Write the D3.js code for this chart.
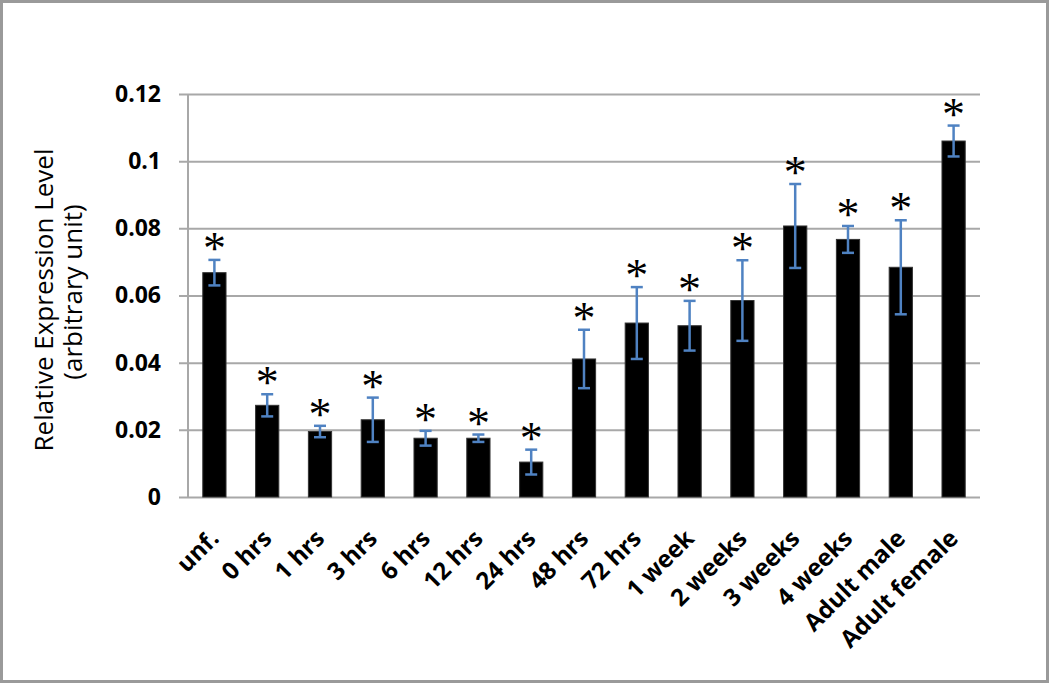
<!DOCTYPE html>
<html>
<head>
<meta charset="utf-8">
<script src="https://cdn.jsdelivr.net/npm/d3@7"></script>
<style>
  body { margin: 0; background: #fff; }
  svg { display: block; }
</style>
</head>
<body>
<div id="chart"></div>
<script>
const categories = ["unf.", "0 hrs", "1 hrs", "3 hrs", "6 hrs", "12 hrs", "24 hrs", "48 hrs",
  "72 hrs", "1 week", "2 weeks", "3 weeks", "4 weeks", "Adult male", "Adult female"];
const values = [0.0668, 0.0273, 0.0195, 0.0230, 0.0175, 0.0175, 0.0104, 0.0411,
  0.0518, 0.0510, 0.0585, 0.0807, 0.0767, 0.0684, 0.1060];
const errors = [0.0038, 0.0033, 0.0017, 0.0066, 0.0022, 0.0011, 0.0037, 0.0087,
  0.0107, 0.0074, 0.0120, 0.0125, 0.0040, 0.0140, 0.0046];
const yTicks = [0, 0.02, 0.04, 0.06, 0.08, 0.1, 0.12];

const data = categories.map((c, i) => ({ cat: c, value: values[i], err: errors[i] }));

const width = 1050, height = 684;
const margin = { top: 94, right: 70, bottom: 187, left: 188 };

const svg = d3.select("#chart").append("svg")
    .attr("width", width)
    .attr("height", height);

// outer frame
svg.append("rect")
    .attr("x", 1.5).attr("y", 1.5)
    .attr("width", width - 4).attr("height", height - 4)
    .attr("fill", "#fff")
    .attr("stroke", "#9a9a9a")
    .attr("stroke-width", 3);

const x = d3.scaleBand()
    .domain(categories)
    .range([margin.left, width - margin.right])
    .paddingInner(0.56)
    .paddingOuter(0.28);

const y = d3.scaleLinear()
    .domain([0, 0.12])
    .range([height - margin.bottom, margin.top]);

const plotW = width - margin.right - margin.left;

// y axis with gridlines
svg.append("g")
    .attr("transform", `translate(${width - margin.right},0)`)
    .call(d3.axisLeft(y)
      .tickValues(yTicks)
      .tickSize(plotW + 9)
      .tickFormat(d => d3.format("")(d)))
    .call(g => g.select(".domain").remove())
    .call(g => g.selectAll(".tick line")
      .attr("stroke", "#a8a8a8")
      .attr("stroke-width", 2))
    .call(g => g.selectAll(".tick text")
      .attr("x", -plotW - 27)
      .attr("fill", "#000")
      .attr("font-family", "'Open Sans', sans-serif")
      .attr("font-weight", "bold")
      .attr("font-size", 23));

// vertical axis line
svg.append("line")
    .attr("x1", margin.left).attr("x2", margin.left)
    .attr("y1", y(0.12)).attr("y2", y(0))
    .attr("stroke", "#a8a8a8")
    .attr("stroke-width", 2);

// bars
svg.append("g")
  .selectAll("rect")
  .data(data)
  .join("rect")
    .attr("x", d => x(d.cat))
    .attr("y", d => y(d.value))
    .attr("width", x.bandwidth())
    .attr("height", d => y(0) - y(d.value))
    .attr("fill", "#000")
    .attr("stroke", "#333")
    .attr("stroke-width", 1);

// error bars
const errColor = "#4f82c2";
const eb = svg.append("g")
  .selectAll("g")
  .data(data)
  .join("g")
    .attr("transform", d => `translate(${x(d.cat) + x.bandwidth() / 2},0)`);

eb.append("line")
    .attr("y1", d => y(d.value + d.err))
    .attr("y2", d => y(d.value - d.err))
    .attr("stroke", errColor)
    .attr("stroke-width", 2.5);

eb.append("line")
    .attr("x1", -6).attr("x2", 6)
    .attr("y1", d => y(d.value + d.err))
    .attr("y2", d => y(d.value + d.err))
    .attr("stroke", errColor)
    .attr("stroke-width", 2.5);

eb.append("line")
    .attr("x1", -6).attr("x2", 6)
    .attr("y1", d => y(d.value - d.err))
    .attr("y2", d => y(d.value - d.err))
    .attr("stroke", errColor)
    .attr("stroke-width", 2.5);

// significance asterisks
eb.append("text")
    .attr("y", d => y(d.value + d.err) + 4)
    .attr("text-anchor", "middle")
    .attr("font-family", "'Liberation Serif', serif")
    .attr("font-size", 46)
    .attr("fill", "#000")
    .text("*");

// x labels
svg.append("g")
  .selectAll("text")
  .data(categories)
  .join("text")
    .attr("transform", d => `translate(${x(d) + x.bandwidth() / 2 + 6},${y(0) + 43}) rotate(-45)`)
    .attr("text-anchor", "end")
    .attr("font-family", "'Open Sans', sans-serif")
    .attr("font-weight", "bold")
    .attr("font-size", 24)
    .attr("fill", "#000")
    .text(d => d);

// y title
const title = svg.append("text")
    .attr("transform", `translate(53,300) rotate(-90)`)
    .attr("text-anchor", "middle")
    .attr("font-family", "'Open Sans', sans-serif")
    .attr("font-size", 26)
    .attr("fill", "#000");

title.append("tspan").attr("x", 0).attr("dy", 0).text("Relative Expression Level");
title.append("tspan").attr("x", 8).attr("dy", 29).text("(arbitrary unit)");
</script>
</body>
</html>
